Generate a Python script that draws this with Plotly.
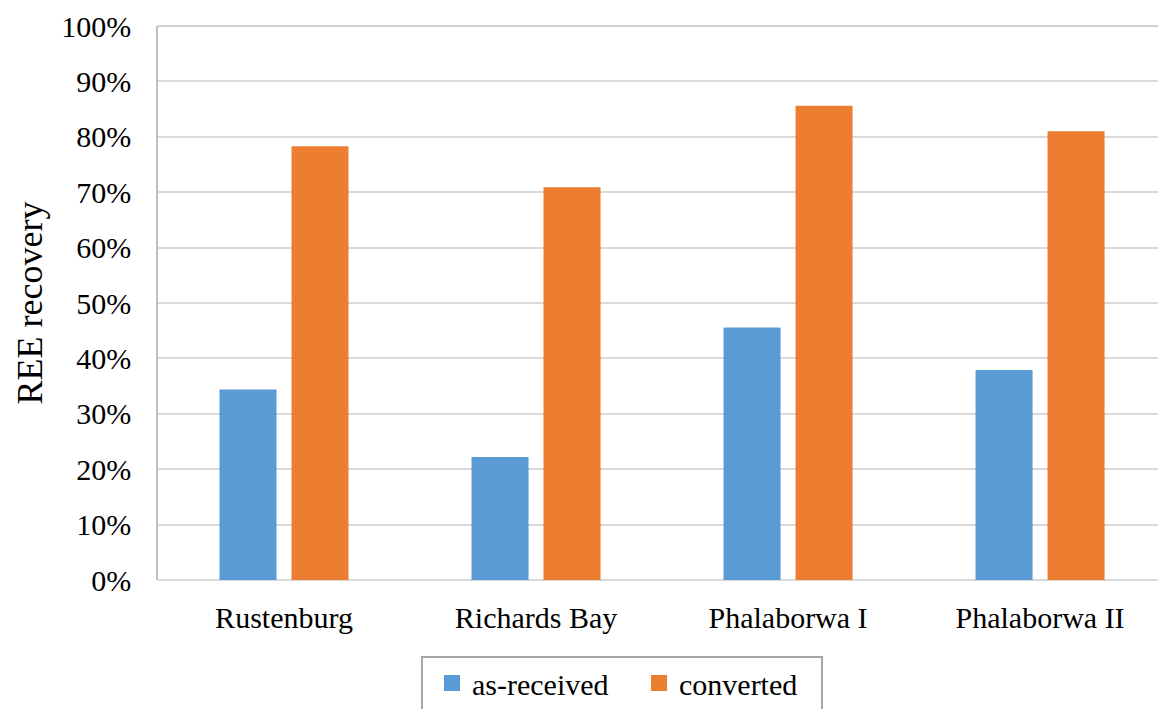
import plotly.graph_objects as go

categories = ["Rustenburg", "Richards Bay", "Phalaborwa I", "Phalaborwa II"]
series_names = ["as-received", "converted"]
as_received = [0.344, 0.222, 0.456, 0.379]
converted = [0.783, 0.709, 0.856, 0.810]
y_ticks = [i / 10 for i in range(11)]
y_tick_labels = [f"{i * 10}%" for i in range(11)]

FONT = "Liberation Serif"
COLORS = ["#5b9bd5", "#ed7d31"]

fig = go.Figure()
for name, vals, col in zip(series_names, [as_received, converted], COLORS):
    fig.add_trace(go.Bar(x=categories, y=vals, name=name, showlegend=False,
                         marker=dict(color=col, line=dict(width=0))))
# legend entries with larger square swatches
for name, col in zip(series_names, COLORS):
    fig.add_trace(go.Scatter(x=[None], y=[None], mode="markers", name=name,
                             marker=dict(symbol="square", size=16, color=col)))

fig.update_layout(
    width=1158, height=709,
    margin=dict(l=158, r=0, t=26, b=129, autoexpand=False),
    paper_bgcolor="white", plot_bgcolor="white",
    barmode="group", bargap=0.4286, bargroupgap=0.208,
    font=dict(family=FONT, size=30, color="black"),
    showlegend=True,
    legend=dict(orientation="h", x=0.274, xanchor="left", y=-0.139, yanchor="top",
                font=dict(family=FONT, size=30, color="black"),
                bgcolor="rgba(0,0,0,0)", borderwidth=0,
                itemwidth=30, entrywidth=162, traceorder="normal"),
    xaxis=dict(type="category", range=[-0.5, 3.468], showgrid=False,
               showline=False, ticks="", ticklabelstandoff=17,
               tickfont=dict(family=FONT, size=30, color="black")),
    yaxis=dict(range=[0, 1], tickvals=y_ticks, ticktext=y_tick_labels,
               showgrid=True, gridcolor="#d9d9d9", gridwidth=1.5,
               zeroline=True, zerolinecolor="#d9d9d9", zerolinewidth=1.5,
               showline=True, linecolor="#bfbfbf", linewidth=1.5,
               ticks="", ticklabelstandoff=19,
               tickfont=dict(family=FONT, size=30, color="black"),
               title=dict(text="REE recovery",
                          font=dict(family=FONT, size=36, color="black"),
                          standoff=8)),
    shapes=[
        dict(type="line", xref="paper", yref="paper", x0=0, x1=1, y0=1, y1=1,
             line=dict(color="#bfbfbf", width=1.5)),
        dict(type="rect", xref="paper", yref="paper", x0=0.264, x1=0.664,
             y0=-0.139, y1=-0.26, line=dict(color="#a6a6a6", width=2),
             fillcolor="rgba(0,0,0,0)"),
    ],
)

fig.write_html("out.html")
